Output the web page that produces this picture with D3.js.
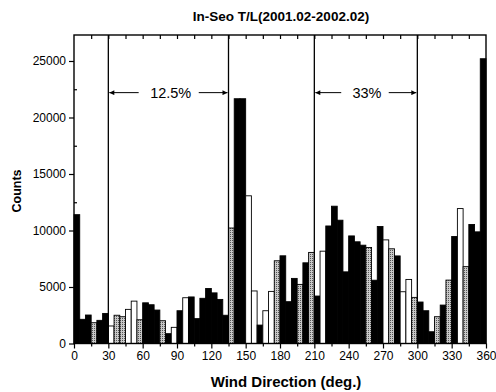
<!DOCTYPE html>
<html>
<head>
<meta charset="utf-8">
<script src="https://cdn.jsdelivr.net/npm/d3@7"></script>
<style>
  html, body { margin: 0; padding: 0; background: #fff; }
  svg { display: block; font-family: "Liberation Sans", Arial, Helvetica, sans-serif; }
</style>
</head>
<body>
<svg id="chart" width="496" height="392"></svg>
<script>
// Wind direction histogram, 5-degree bins (start angle of each bin)
const binStart = d3.range(0, 360, 5);
const counts = [
  11400, 2140, 2520, 1840, 2050, 2660,
  1550, 2500, 2370, 3020, 3750, 2100,
  3600, 3430, 2960, 2015, 870, 1430,
  2900, 4050, 4120, 2200, 4000, 4870,
  4480, 3900, 2500, 10220, 21660, 21660,
  13070, 4650, 1630, 2900, 4610, 7320,
  7760, 3700, 5760, 5230, 7140, 8060,
  4200, 8170, 10400, 12150, 10910, 6340,
  9520, 9000, 8700, 8500, 5600, 10350,
  9170, 8380, 7750, 4580, 5670, 4080,
  3670, 2900, 1040, 2370, 3400, 5610,
  9470, 11940, 6800, 10530, 9880, 25200
];
// shading key per bin: B = solid, G = stippled, W = open
const shade = [
  "B","B","B","G","B","B",
  "W","G","G","W","W","G",
  "B","B","B","G","B","W",
  "B","W","B","B","B","B",
  "B","B","B","G","B","B",
  "W","W","B","W","W","G",
  "B","B","B","G","B","G",
  "B","W","B","B","B","B",
  "B","B","B","G","B","B",
  "W","G","B","W","W","G",
  "B","B","B","G","B","G",
  "B","W","G","B","B","B"
];
const xTickValues = d3.range(0, 361, 30);
const yTickValues = [0, 5000, 10000, 15000, 20000, 25000];
// sector boundaries and share annotations
const sectorLines = [30, 135, 210, 300];
const sectorNotes = [
  { label: "12.5%", from: 30, to: 135, center: 84.5, gapL: 56.5, gapR: 109 },
  { label: "33%", from: 210, to: 300, center: 256, gapL: 233.5, gapR: 275 }
];
const noteValue = 22200;

const svg = d3.select("#chart");
const margin = { left: 74, right: 10, top: 35, bottom: 48.5 };
const W = 496, H = 392;

const x = d3.scaleLinear().domain([0, 360]).range([margin.left, W - margin.right]);
const y = d3.scaleLinear().domain([0, 27300]).range([H - margin.bottom, margin.top]);

const fillOf = { B: "#000", G: "url(#stipple)", W: "#fff" };

// stipple pattern for the grey bars
const defs = svg.append("defs");
const pat = defs.append("pattern").attr("id", "stipple")
  .attr("patternUnits", "userSpaceOnUse").attr("width", 2).attr("height", 2);
pat.append("rect").attr("width", 2).attr("height", 2).attr("fill", "#c8c8c8");
pat.append("rect").attr("width", 1).attr("height", 1).attr("fill", "#555");
defs.append("marker").attr("id", "arrow")
  .attr("viewBox", "0 0 10 10").attr("refX", 10).attr("refY", 5)
  .attr("markerWidth", 7).attr("markerHeight", 5).attr("orient", "auto")
  .attr("markerUnits", "userSpaceOnUse")
  .append("path").attr("d", "M0,0 L10,5 L0,10 Z").attr("fill", "#000");

// bars
const bins = binStart.map((s, i) => ({ s, v: counts[i], k: shade[i] }));
svg.append("g").selectAll("rect").data(bins).join("rect")
  .attr("x", d => x(d.s))
  .attr("width", d => x(d.s + 5) - x(d.s))
  .attr("y", d => y(d.v))
  .attr("height", d => y(0) - y(d.v))
  .attr("fill", d => fillOf[d.k])
  .attr("stroke", "#000")
  .attr("stroke-width", 0.9);

// sector boundary lines
svg.append("g").selectAll("line").data(sectorLines).join("line")
  .attr("x1", d => x(d)).attr("x2", d => x(d))
  .attr("y1", y.range()[1]).attr("y2", y(0))
  .attr("stroke", "#000").attr("stroke-width", 1.3);

// sector annotations with arrows
const notes = svg.append("g");
sectorNotes.forEach(n => {
  notes.append("text").attr("x", x(n.center)).attr("y", y(noteValue) + 5)
    .attr("text-anchor", "middle").attr("font-size", 14.5).text(n.label);
  notes.append("line").attr("x1", x(n.gapL)).attr("x2", x(n.from) + 1)
    .attr("y1", y(noteValue)).attr("y2", y(noteValue))
    .attr("stroke", "#000").attr("stroke-width", 1).attr("marker-end", "url(#arrow)");
  notes.append("line").attr("x1", x(n.gapR)).attr("x2", x(n.to) - 1)
    .attr("y1", y(noteValue)).attr("y2", y(noteValue))
    .attr("stroke", "#000").attr("stroke-width", 1).attr("marker-end", "url(#arrow)");
});

// frame
svg.append("rect")
  .attr("x", x(0)).attr("y", y.range()[1])
  .attr("width", x(360) - x(0)).attr("height", y(0) - y.range()[1])
  .attr("fill", "none").attr("stroke", "#000").attr("stroke-width", 1.4);

// bottom axis: labelled every 30, minor every 15
svg.append("g").attr("transform", `translate(0,${y(0)})`)
  .call(d3.axisBottom(x).tickValues(xTickValues).tickFormat(d3.format("d")).tickSize(5).tickPadding(3));
svg.append("g").attr("transform", `translate(0,${y(0)})`)
  .call(d3.axisBottom(x).tickValues(d3.range(15, 360, 30)).tickFormat("").tickSize(3));
// top axis: inward ticks every 15
svg.append("g").attr("transform", `translate(0,${y.range()[1]})`)
  .call(d3.axisBottom(x).tickValues(d3.range(15, 360, 15)).tickFormat("").tickSize(4));

// left axis
svg.append("g").attr("transform", `translate(${x(0)},0)`)
  .call(d3.axisLeft(y).tickValues(yTickValues).tickFormat(d3.format("d")).tickSize(5).tickPadding(3));
svg.append("g").attr("transform", `translate(${x(0)},0)`)
  .call(d3.axisRight(y).tickValues(d3.range(2500, 27000, 5000)).tickFormat("").tickSize(3));
// right axis: inward ticks
svg.append("g").attr("transform", `translate(${x(360)},0)`)
  .call(d3.axisLeft(y).tickValues(d3.range(2500, 27000, 2500)).tickFormat("").tickSize(4));

svg.selectAll(".domain").remove();
svg.selectAll(".tick line").attr("stroke", "#000").attr("stroke-width", 1.2);
svg.selectAll(".tick text").attr("font-size", 12).attr("fill", "#000")
  .attr("font-family", "'Liberation Sans', Arial, sans-serif");

// titles
svg.append("text").attr("x", 281).attr("y", 21).attr("text-anchor", "middle")
  .attr("font-size", 13.5).attr("font-weight", "bold").text("In-Seo T/L(2001.02-2002.02)");
svg.append("text").attr("x", 286).attr("y", 387).attr("text-anchor", "middle")
  .attr("font-size", 15).attr("font-weight", "bold").text("Wind Direction (deg.)");
svg.append("text").attr("transform", "translate(21,191) rotate(-90)").attr("text-anchor", "middle")
  .attr("font-size", 12.5).attr("font-weight", "bold").text("Counts");
</script>
</body>
</html>
